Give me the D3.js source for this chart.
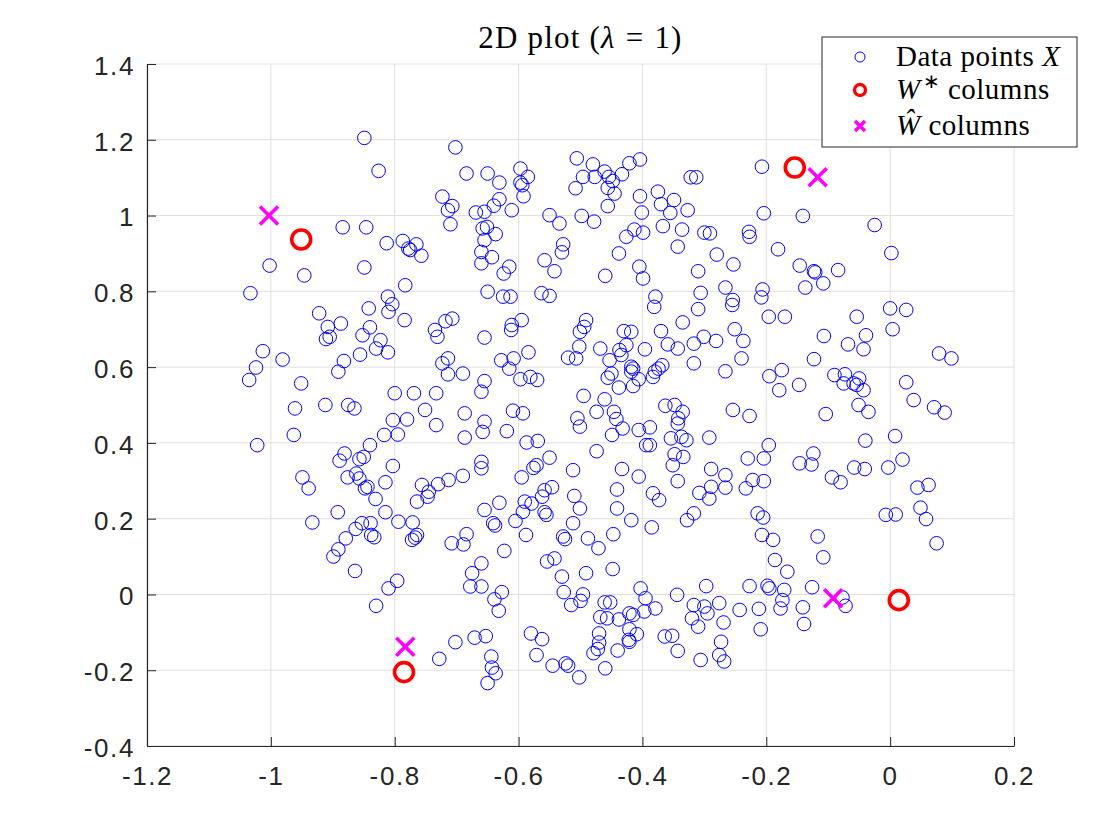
<!DOCTYPE html>
<html lang="en">
<head>
<meta charset="UTF-8">
<title>2D plot</title>
<style>
  body { margin: 0; padding: 0; background: #fff; }
  svg { display: block; }
  .tick-label { font-family: "Liberation Sans", Arial, Helvetica, sans-serif; font-size: 26px; fill: #262626; letter-spacing: 1.6px; }
  .latex { font-family: "Liberation Serif", "Times New Roman", serif; fill: #000; }
</style>
</head>
<body>
<svg id="chart" width="1120" height="840"></svg>
<script src="https://d3js.org/d3.v7.min.js"></script>
<script>
// axis ticks
const xTicks = [-1.2, -1, -0.8, -0.6, -0.4, -0.2, 0, 0.2];
const yTicks = [-0.4, -0.2, 0, 0.2, 0.4, 0.6, 0.8, 1, 1.2, 1.4];

// true dictionary columns W*
const wStarX = [-0.951, -0.154, -0.785, 0.014];
const wStarY = [0.937, 1.127, -0.205, -0.015];

// estimated columns W-hat
const wHatX = [-1.003, -0.117, -0.783, -0.092];
const wHatY = [1.000, 1.101, -0.138, -0.010];

// data points X
const dataPoints = [
  [-0.849,1.205],[-0.702,1.180],[-0.826,1.118],[-0.684,1.111],[-0.723,1.050],[-0.707,1.025],[-0.714,1.014],[-0.710,0.977],
  [-0.669,1.008],[-0.884,0.969],[-0.846,0.969],[-0.813,0.927],[-0.787,0.933],[-0.778,0.913],[-0.775,0.909],[-0.765,0.924],
  [-0.757,0.894],[-1.002,0.868],[-0.946,0.842],[-0.849,0.863],[-1.033,0.795],[-0.783,0.816],[-0.811,0.786],[-0.804,0.766],
  [-0.842,0.755],[-0.922,0.742],[-0.810,0.746],
  [-0.650,1.111],[-0.631,1.087],[-0.597,1.124],[-0.585,1.102],[-0.597,1.087],[-0.594,1.080],[-0.592,1.051],[-0.631,1.043],
  [-0.640,1.026],[-0.655,1.010],[-0.611,1.014],[-0.658,0.966],[-0.651,0.970],[-0.637,0.951],[-0.655,0.935],[-0.660,0.904],
  [-0.643,0.890],[-0.660,0.874],[-0.615,0.865],[-0.624,0.847],[-0.650,0.799],[-0.625,0.786],[-0.613,0.786],[-0.550,1.001],
  [-0.534,0.979],[-0.558,0.882],[-0.542,0.853],[-0.528,0.924],[-0.530,0.903],[-0.563,0.795],[-0.550,0.788],[-0.506,1.151],
  [-0.480,1.135],[-0.496,1.102],[-0.477,1.102],[-0.461,1.116],[-0.454,1.102],[-0.448,1.091],[-0.433,1.109],[-0.421,1.138],
  [-0.404,1.148],[-0.508,1.072],[-0.456,1.073],[-0.445,1.058],[-0.456,1.025],[-0.498,0.999],[-0.478,0.984],[-0.404,1.051],
  [-0.401,1.008],[-0.413,0.963],[-0.399,0.955],[-0.426,0.944],[-0.438,0.900],[-0.405,0.865],[-0.399,0.834],[-0.460,0.841],
  [-0.375,1.063],[-0.349,1.041],[-0.370,1.030],[-0.355,1.007],[-0.327,1.014],[-0.367,0.972],[-0.336,0.963],[-0.343,0.918],
  [-0.322,1.101],[-0.313,1.101],[-0.300,0.955],[-0.291,0.953],[-0.280,0.897],[-0.310,0.853],[-0.306,0.796],[-0.310,0.753],
  [-0.379,0.786],[-0.381,0.759],
  [-0.207,1.129],[-0.204,1.006],[-0.141,0.999],[-0.228,0.957],[-0.227,0.944],[-0.025,0.975],[-0.181,0.911],[-0.253,0.871],
  [-0.146,0.868],[-0.123,0.853],[-0.121,0.850],[-0.084,0.856],[0.002,0.901],[-0.137,0.810],[-0.108,0.821],[-0.266,0.810],
  [-0.206,0.805],[-0.208,0.784],[-0.254,0.777],[-0.255,0.764],[0.000,0.755],[0.026,0.751],
  [-0.908,0.706],[-0.887,0.715],[-0.911,0.674],[-0.905,0.680],[-0.840,0.705],[-0.852,0.684],[-0.784,0.724],[-0.823,0.671],
  [-0.830,0.649],[-0.811,0.639],[-0.856,0.633],[-0.882,0.616],[-0.891,0.588],[-1.013,0.642],[-0.981,0.620],[-1.024,0.599],
  [-1.035,0.566],[-0.951,0.557],[-0.961,0.491],[-0.912,0.500],[-0.875,0.500],[-0.865,0.491],[-0.963,0.421],[-1.022,0.394],
  [-0.800,0.531],[-0.769,0.531],[-0.733,0.531],[-0.751,0.487],[-0.780,0.462],[-0.803,0.460],[-0.733,0.447],[-0.795,0.422],
  [-0.817,0.421],[-0.840,0.394],[-0.881,0.372],[-0.889,0.353],[-0.857,0.357],[-0.850,0.363],[-0.803,0.339],[-0.949,0.309],
  [-0.939,0.280],[-0.876,0.309],[-0.862,0.319],[-0.857,0.306],[-0.844,0.284],[-0.848,0.280],[-0.815,0.296],[-0.831,0.252],
  [-0.756,0.289],[-0.745,0.271],[-0.747,0.258],[-0.730,0.291],[-0.713,0.302],[-0.690,0.313],[-0.764,0.245],[-0.723,0.610],
  [-0.714,0.623],[-0.714,0.581],[-0.690,0.583],[-0.735,0.698],[-0.731,0.680],[-0.718,0.721],[-0.707,0.728],[-0.687,0.478],
  [-0.687,0.414],
  [-0.655,0.678],[-0.612,0.698],[-0.611,0.711],[-0.595,0.724],[-0.628,0.618],[-0.608,0.623],[-0.615,0.596],[-0.584,0.639],
  [-0.597,0.568],[-0.581,0.574],[-0.570,0.566],[-0.655,0.563],[-0.660,0.535],[-0.609,0.485],[-0.593,0.478],[-0.655,0.456],
  [-0.658,0.429],[-0.619,0.431],[-0.587,0.401],[-0.569,0.405],[-0.660,0.350],[-0.660,0.333],[-0.550,0.361],[-0.576,0.334],
  [-0.571,0.341],[-0.595,0.309],[-0.558,0.275],[-0.546,0.283],[-0.562,0.258],[-0.590,0.245],[-0.579,0.240],[-0.631,0.242],
  [-0.512,0.328],[-0.510,0.260],[-0.491,0.724],[-0.494,0.706],[-0.501,0.693],[-0.502,0.654],[-0.520,0.625],[-0.507,0.623],
  [-0.495,0.524],[-0.505,0.465],[-0.501,0.443],[-0.474,0.482],[-0.461,0.515],[-0.474,0.378],[-0.468,0.649],[-0.453,0.618],
  [-0.437,0.645],[-0.434,0.632],[-0.426,0.658],[-0.430,0.695],[-0.418,0.693],[-0.450,0.583],[-0.456,0.572],[-0.438,0.546],
  [-0.415,0.550],[-0.406,0.568],[-0.418,0.601],[-0.415,0.596],[-0.418,0.588],[-0.396,0.647],[-0.446,0.482],[-0.442,0.463],
  [-0.432,0.438],[-0.449,0.421],[-0.406,0.434],[-0.388,0.441],[-0.388,0.394],[-0.394,0.394],[-0.433,0.331],[-0.406,0.311],
  [-0.441,0.277],[-0.380,0.588],[-0.374,0.596],[-0.368,0.605],[-0.383,0.574],[-0.370,0.695],[-0.359,0.660],[-0.343,0.649],
  [-0.335,0.718],[-0.317,0.662],[-0.301,0.680],[-0.281,0.669],[-0.317,0.610],[-0.363,0.498],[-0.348,0.500],[-0.335,0.482],
  [-0.342,0.465],[-0.343,0.451],[-0.354,0.412],[-0.337,0.416],[-0.329,0.407],[-0.292,0.414],[-0.348,0.370],[-0.334,0.363],
  [-0.351,0.341],[-0.343,0.299],[-0.289,0.331],[-0.308,0.268],[-0.289,0.284],[-0.292,0.253],[-0.383,0.267],[-0.373,0.249],
  [-0.196,0.733],[-0.170,0.733],[-0.054,0.733],[-0.251,0.700],[-0.237,0.669],[-0.240,0.623],[-0.266,0.589],[-0.107,0.682],
  [-0.068,0.660],[-0.039,0.684],[-0.043,0.647],[-0.123,0.621],[0.004,0.700],[0.079,0.636],[0.099,0.623],[-0.195,0.576],
  [-0.175,0.592],[-0.179,0.539],[-0.147,0.553],[-0.090,0.579],[-0.073,0.581],[-0.075,0.557],[-0.059,0.557],[-0.050,0.570],
  [-0.054,0.553],[-0.043,0.539],[0.026,0.560],[0.038,0.513],[-0.051,0.500],[-0.035,0.482],[-0.104,0.476],[-0.254,0.487],
  [-0.227,0.471],[0.071,0.494],[0.088,0.480],[-0.040,0.406],[0.008,0.418],[-0.196,0.394],[-0.230,0.359],[-0.204,0.359],
  [-0.146,0.346],[-0.124,0.372],[-0.127,0.343],[-0.058,0.335],[-0.041,0.331],[-0.003,0.335],[0.020,0.356],[-0.094,0.309],
  [-0.080,0.296],[-0.266,0.315],[-0.266,0.282],[-0.222,0.302],[-0.204,0.299],[-0.233,0.280],[0.044,0.282],[0.062,0.289],
  [-0.933,0.190],[-0.892,0.217],[-0.815,0.217],[-0.853,0.188],[-0.839,0.188],[-0.863,0.173],[-0.879,0.148],[-0.838,0.157],
  [-0.833,0.151],[-0.891,0.119],[-0.899,0.100],[-0.864,0.062],[-0.794,0.192],[-0.771,0.190],[-0.764,0.157],[-0.772,0.144],
  [-0.767,0.150],[-0.796,0.036],[-0.810,0.016],[-0.830,-0.030],[-0.708,0.135],[-0.689,0.132],[-0.684,0.159],[-0.675,0.056],
  [-0.678,0.021],[-0.702,-0.126],[-0.671,-0.114],[-0.728,-0.170],
  [-0.655,0.223],[-0.641,0.188],[-0.638,0.182],[-0.605,0.194],[-0.593,0.218],[-0.558,0.217],[-0.555,0.210],[-0.588,0.157],
  [-0.623,0.115],[-0.660,0.082],[-0.512,0.188],[-0.501,0.227],[-0.528,0.153],[-0.525,0.146],[-0.488,0.148],[-0.471,0.122],
  [-0.447,0.159],[-0.441,0.227],[-0.418,0.196],[-0.385,0.177],[-0.328,0.196],[-0.317,0.214],[-0.554,0.087],[-0.542,0.095],
  [-0.530,0.047],[-0.527,0.006],[-0.491,0.056],[-0.448,0.067],[-0.515,-0.028],[-0.500,-0.017],[-0.496,0.000],[-0.660,0.021],
  [-0.627,0.006],[-0.639,-0.013],[-0.632,-0.043],[-0.653,-0.110],[-0.644,-0.164],[-0.643,-0.193],[-0.637,-0.208],[-0.650,-0.234],
  [-0.580,-0.103],[-0.562,-0.118],[-0.571,-0.160],[-0.545,-0.188],[-0.524,-0.182],[-0.520,-0.188],[-0.502,-0.219],[-0.460,-0.195],
  [-0.461,-0.021],[-0.452,-0.021],[-0.468,-0.060],[-0.457,-0.063],[-0.438,-0.066],[-0.421,-0.050],[-0.415,-0.054],[-0.421,-0.092],
  [-0.409,-0.105],[-0.421,-0.125],[-0.422,-0.120],[-0.470,-0.103],[-0.470,-0.127],[-0.472,-0.144],[-0.479,-0.155],[-0.440,-0.148],
  [-0.403,0.016],[-0.395,-0.010],[-0.379,-0.037],[-0.397,-0.045],[-0.364,-0.111],[-0.352,-0.109],[-0.343,-0.149],[-0.344,-0.001],
  [-0.297,0.022],[-0.317,-0.028],[-0.300,-0.032],[-0.295,-0.050],[-0.320,-0.063],[-0.310,-0.085],[-0.306,-0.173],
  [-0.214,0.214],[-0.205,0.203],[-0.207,0.157],[-0.189,0.144],[-0.186,0.091],[-0.166,0.060],[-0.117,0.153],[-0.108,0.098],
  [-0.227,0.022],[-0.198,0.023],[-0.195,0.016],[-0.171,0.012],[-0.174,-0.015],[-0.177,-0.037],[-0.141,-0.034],[-0.126,0.019],
  [-0.139,-0.078],[-0.212,-0.038],[-0.243,-0.041],[-0.209,-0.092],[-0.276,-0.023],[-0.269,-0.074],[-0.273,-0.125],[-0.276,-0.160],
  [-0.268,-0.177],[-0.077,-0.008],[-0.072,-0.030],[-0.007,0.210],[0.009,0.211],[0.049,0.229],[0.058,0.199],[0.075,0.135]
];

// layout
const svg = d3.select("#chart");
const plot = { left: 147, right: 1014, top: 64, bottom: 746 };

const x = d3.scaleLinear().domain([-1.2, 0.2]).range([plot.left, plot.right]);
const y = d3.scaleLinear().domain([-0.4, 1.4]).range([plot.bottom, plot.top]);

const axisColor = "#262626";
const fmt = d => String(+d.toFixed(1));

function crossPath(h) {
  return `M${-h},${-h}L${h},${h}M${-h},${h}L${h},${-h}`;
}

// grid
svg.append("g").selectAll("line").data(xTicks).join("line")
  .attr("x1", d => x(d)).attr("x2", d => x(d))
  .attr("y1", plot.top).attr("y2", plot.bottom)
  .attr("stroke", "#dfdfdf").attr("stroke-width", 1);

svg.append("g").selectAll("line").data(yTicks).join("line")
  .attr("x1", plot.left).attr("x2", plot.right)
  .attr("y1", d => y(d)).attr("y2", d => y(d))
  .attr("stroke", "#dfdfdf").attr("stroke-width", 1);

// axes (MATLAB style: ticks point inward, box off)
const xAxis = d3.axisBottom(x).tickValues(xTicks).tickSize(-9).tickSizeOuter(0).tickFormat(fmt).tickPadding(21);
const yAxis = d3.axisLeft(y).tickValues(yTicks).tickSize(-9).tickSizeOuter(0).tickFormat(fmt).tickPadding(12);

const gx = svg.append("g").attr("transform", `translate(0,${plot.bottom})`).call(xAxis);
const gy = svg.append("g").attr("transform", `translate(${plot.left},0)`).call(yAxis);

[gx, gy].forEach(g => {
  g.select(".domain").attr("stroke", axisColor).attr("stroke-width", 1.2);
  g.selectAll(".tick line").attr("stroke", axisColor).attr("stroke-width", 1);
  g.selectAll(".tick text").attr("class", "tick-label").attr("fill", axisColor);
});
gx.selectAll(".tick text").attr("dy", "0.71em");
gy.selectAll(".tick text").attr("dy", "0.4em");

// data points
svg.append("g").selectAll("circle").data(dataPoints).join("circle")
  .attr("cx", d => x(d[0])).attr("cy", d => y(d[1]))
  .attr("r", 6.8)
  .attr("fill", "none").attr("stroke", "#0000ff").attr("stroke-width", 1);

// W* columns
svg.append("g").selectAll("circle").data(d3.range(wStarX.length)).join("circle")
  .attr("cx", i => x(wStarX[i])).attr("cy", i => y(wStarY[i]))
  .attr("r", 9.5)
  .attr("fill", "none").attr("stroke", "#ff0000").attr("stroke-width", 3.6);

// W-hat columns
svg.append("g").selectAll("path").data(d3.range(wHatX.length)).join("path")
  .attr("transform", i => `translate(${x(wHatX[i])},${y(wHatY[i])})`)
  .attr("d", crossPath(9))
  .attr("fill", "none").attr("stroke", "#ff00ff").attr("stroke-width", 3.6);

// title
const title = svg.append("text").attr("class", "latex")
  .attr("x", (plot.left + plot.right) / 2).attr("y", 48)
  .attr("text-anchor", "middle").attr("font-size", 31).attr("letter-spacing", 1.2)
  .attr("xml:space", "preserve");
title.append("tspan").text("2D plot (");
title.append("tspan").attr("font-style", "italic").text("λ");
title.append("tspan").attr("dx", 10).text("=");
title.append("tspan").attr("dx", 10).text("1)");

// legend
const legend = svg.append("g");
legend.append("rect")
  .attr("x", 822).attr("y", 37).attr("width", 255).attr("height", 110)
  .attr("fill", "#fff").attr("stroke", axisColor).attr("stroke-width", 1);

const rows = [57, 90, 126];
const mx = 860, tx = 896;

legend.append("circle").attr("cx", mx).attr("cy", rows[0]).attr("r", 5)
  .attr("fill", "none").attr("stroke", "#0000ff").attr("stroke-width", 1);
legend.append("circle").attr("cx", mx).attr("cy", rows[1]).attr("r", 5.5)
  .attr("fill", "none").attr("stroke", "#ff0000").attr("stroke-width", 3.4);
legend.append("path").attr("transform", `translate(${mx},${rows[2]})`).attr("d", crossPath(5))
  .attr("fill", "none").attr("stroke", "#ff00ff").attr("stroke-width", 3.4);

const t1 = legend.append("text").attr("class", "latex").attr("x", tx).attr("y", rows[0] + 9)
  .attr("font-size", 29).attr("letter-spacing", 0.5);
t1.append("tspan").text("Data points ");
t1.append("tspan").attr("font-style", "italic").text("X");

const t2 = legend.append("text").attr("class", "latex").attr("x", tx).attr("y", rows[1] + 9)
  .attr("font-size", 29).attr("letter-spacing", 0.5);
t2.append("tspan").attr("font-style", "italic").text("W");
t2.append("tspan").attr("font-size", 20).attr("dy", -11).attr("dx", 2).text("∗");
t2.append("tspan").attr("dy", 11).text(" columns");

const t3 = legend.append("text").attr("class", "latex").attr("x", tx).attr("y", rows[2] + 9)
  .attr("font-size", 29).attr("letter-spacing", 0.5);
t3.append("tspan").attr("font-style", "italic").text("Ŵ");
t3.append("tspan").text(" columns");
</script>
</body>
</html>
